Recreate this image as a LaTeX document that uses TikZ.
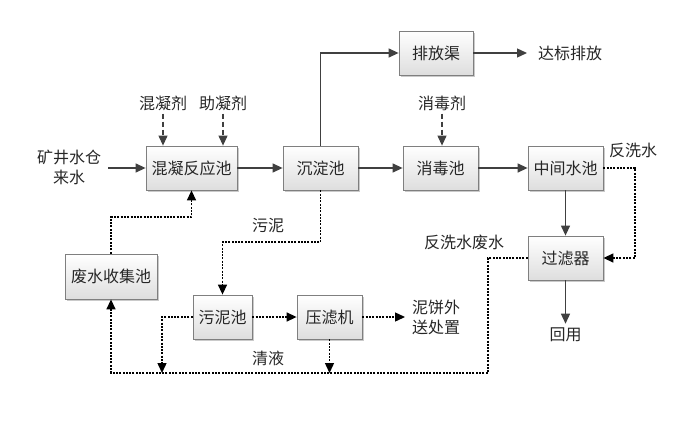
\documentclass[tikz,border=0pt]{standalone}
\usepackage{fontspec}
\newfontfamily\cjk{Noto Sans CJK SC}
\usetikzlibrary{arrows.meta,shadows,calc}
\definecolor{linegray}{HTML}{404040}
\definecolor{boxborder}{HTML}{7F7F7F}
\tikzset{
  box/.style={draw=boxborder,line width=0.8pt,top color=white,bottom color=black!13,
    minimum height=44pt,inner sep=0pt,font=\cjk\fontsize{16}{18}\selectfont,text=black!85,
    drop shadow={shadow xshift=1.6pt,shadow yshift=-1.6pt,fill=black!35,opacity=0.6}},
  lbl/.style={font=\cjk\fontsize{16}{20}\selectfont,text=black!85,inner sep=1pt,align=center},
  solidarr/.style={draw=linegray,line width=1.3pt,-{Triangle[length=10pt,width=9pt]}},
  dotline/.style={draw=black,line width=1.4pt,dash pattern=on 2pt off 1.3pt},
  dotarr/.style={dotline,-{Triangle[length=10pt,width=9pt]}},
  dasharr/.style={draw=linegray,line width=1.1pt,dash pattern=on 5pt off 3pt,-{Triangle[length=10pt,width=9pt]}},
}
\begin{document}
\begin{tikzpicture}[x=1pt,y=-1pt]
\useasboundingbox (0,0) rectangle (700,423);
% boxes
\node[box,minimum width=91pt] (mix) at (191.5,168) {混凝反应池};
\node[box,minimum width=75pt] (settle) at (320.5,168) {沉淀池};
\node[box,minimum width=74pt] (drain) at (436,53) {排放渠};
\node[box,minimum width=75pt] (disinf) at (440.5,168) {消毒池};
\node[box,minimum width=75pt] (mid) at (565.5,168) {中间水池};
\node[box,minimum width=75pt] (filter) at (565.5,258) {过滤器};
\node[box,minimum width=92pt,minimum height=45pt] (collect) at (111,276.5) {废水收集池};
\node[box,minimum width=59pt] (sludge) at (222.5,317) {污泥池};
\node[box,minimum width=65pt] (press) at (329.5,317) {压滤机};
% labels
\node[lbl] (inflow) at (69,167) {矿井水仓\\来水};
\node[lbl] (coag) at (163,103) {混凝剂};
\node[lbl] (aid) at (223,103) {助凝剂};
\node[lbl] (dis) at (442,103) {消毒剂};
\node[lbl,anchor=west] (out) at (537,53) {达标排放};
\node[lbl] (bw) at (633,150) {反洗水};
\node[lbl] (bww) at (464,242) {反洗水废水};
\node[lbl] (reuse) at (565.5,335) {回用};
\node[lbl] (mud) at (268,226) {污泥};
\node[lbl] (clear) at (268,358) {清液};
\node[lbl,anchor=west,align=left] (cake) at (411,317) {泥饼外\\送处置};
% coordinates
\coordinate (inA) at (108,168);
\coordinate (bwR) at (635,168);
\coordinate (fL) at (488,258);
\coordinate (fB) at (488,373);
\coordinate (cB) at (111,373);
\coordinate (cT) at (111,217);
\coordinate (sB) at (320.5,242);
\coordinate (lB) at (162,373);
\coordinate (pB) at (329.5,373);
% solid connectors
\draw[solidarr] (inA) -- (mix.west);
\draw[solidarr] (mix.east) -- (settle.west);
\draw[solidarr] (settle.north) |- (drain.west);
\draw[solidarr] (drain.east) -- ($(out.west)+(-10,0)$);
\draw[solidarr] (settle.east) -- (disinf.west);
\draw[solidarr] (disinf.east) -- (mid.west);
\draw[solidarr] (mid.south) -- (filter.north);
\draw[solidarr] (filter.south) -- ($(reuse.north)+(0,-3)$);
% dashed chemicals
\draw[dasharr] ($(coag.south)+(0,2)$) -- (coag.south |- mix.north);
\draw[dasharr] ($(aid.south)+(0,2)$) -- (aid.south |- mix.north);
\draw[dasharr] ($(dis.south)+(0,2)$) -- (dis.south |- disinf.north);
% dotted
\draw[dotarr] (mid.east) -- (bwR) |- (filter.east);
\draw[dotarr] (filter.west) -- (fL) -- (fB) -- (cB) -- (collect.south);
\draw[dotarr] (collect.north) -- (cT) -| (mix.south);
\draw[dotarr] (settle.south) -- (sB) -| (sludge.north);
\draw[dotarr] (sludge.east) -- (press.west);
\draw[dotarr] (sludge.west) -| (lB);
\draw[dotarr] (press.south) -- (pB);
\draw[dotarr] (press.east) -- ($(cake.west)+(-6,0)$);
\end{tikzpicture}
\end{document}
